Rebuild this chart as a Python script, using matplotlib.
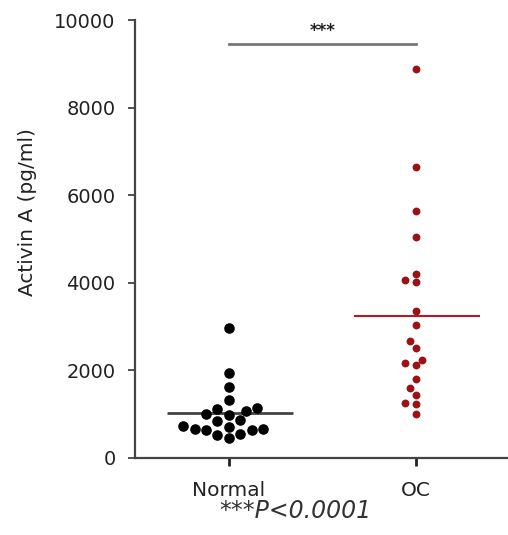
import numpy as np
import matplotlib
matplotlib.use('Agg')
import matplotlib.pyplot as plt

plt.rcParams['font.family'] = ['DejaVu Sans']

groups = ['Normal', 'OC']
normal = [2960, 1940, 1610, 1320, 1120, 970, 1070, 1140, 1005, 830,
          850, 725, 660, 640, 625, 660, 700, 550, 525, 450]
oc = [8880, 6650, 5630, 5040, 4200, 4060, 4010, 3360, 3040, 2660,
      2500, 2240, 2170, 2110, 1800, 1600, 1440, 1250, 1220, 1005]
p_text = '***P<0.0001'


def swarm(ax, y, d_px, step_px):
    # simple beeswarm in pixel space, returns x offsets in data units
    to_px = ax.transData
    ypx = to_px.transform(np.column_stack([np.zeros(len(y)), y]))[:, 1]
    xpx_per_unit = to_px.transform((1, 0))[0] - to_px.transform((0, 0))[0]
    order = np.argsort(y)
    placed = []
    offs = np.zeros(len(y))
    for i in order:
        k = 0
        while True:
            cands = [0] if k == 0 else [-k * step_px, k * step_px]
            ok = None
            for c in cands:
                if all((c - px) ** 2 + (ypx[i] - py) ** 2 >= d_px ** 2 for px, py in placed):
                    ok = c
                    break
            if ok is not None:
                break
            k += 1
        placed.append((ok, ypx[i]))
        offs[i] = ok / xpx_per_unit
    return offs


fig = plt.figure(figsize=(5.08, 5.35), dpi=100)
ax = fig.add_axes([0.266, 0.1445, 0.734, 0.818])
ax.set_xlim(-0.5, 1.49)
ax.set_ylim(0, 10000)

off_n = swarm(ax, np.array(normal), 10.8, 5.7)
off_o = swarm(ax, np.array(oc), 7.8, 5.7)

ax.scatter(0 + off_n, normal, s=58, color='black', zorder=3, linewidths=0)
ax.scatter(1 + off_o, oc, s=32, color='#9b1216', zorder=3, linewidths=0)

ax.hlines(np.mean(normal), -0.33, 0.34, color='#444444', lw=2, zorder=2)
ax.hlines(np.mean(oc), 0.67, 1.34, color='#b01c20', lw=1.5, zorder=2)

# significance bar
ax.plot([0, 1], [9450, 9450], color='#777777', lw=2, clip_on=False)
ax.text(0.5, 9740, '***', ha='center', va='center', fontsize=12,
        fontweight='bold', color='#222222')

ax.set_xticks([0, 1])
ax.set_xticklabels(groups, fontsize=14.5, color='#222222')
ax.set_yticks(range(0, 10001, 2000))
ax.tick_params(axis='y', direction='out', length=5, width=1.2, pad=9,
               labelsize=14, labelcolor='#222222', color='#333333')
ax.tick_params(axis='x', direction='out', length=6, width=2, pad=11,
               color='#222222')
ax.set_ylabel('Activin A (pg/ml)', fontsize=14.5, color='#222222')
ax.yaxis.set_label_coords(-0.262, 0.561)

for s in ['top', 'right']:
    ax.spines[s].set_visible(False)
for s in ['left', 'bottom']:
    ax.spines[s].set_color('#444444')
    ax.spines[s].set_linewidth(1.6)

fig.text(0.581, 0.045, p_text, ha='center', va='center', fontsize=17,
         style='italic', color='#333333')

fig.savefig('out.png', dpi=100)
